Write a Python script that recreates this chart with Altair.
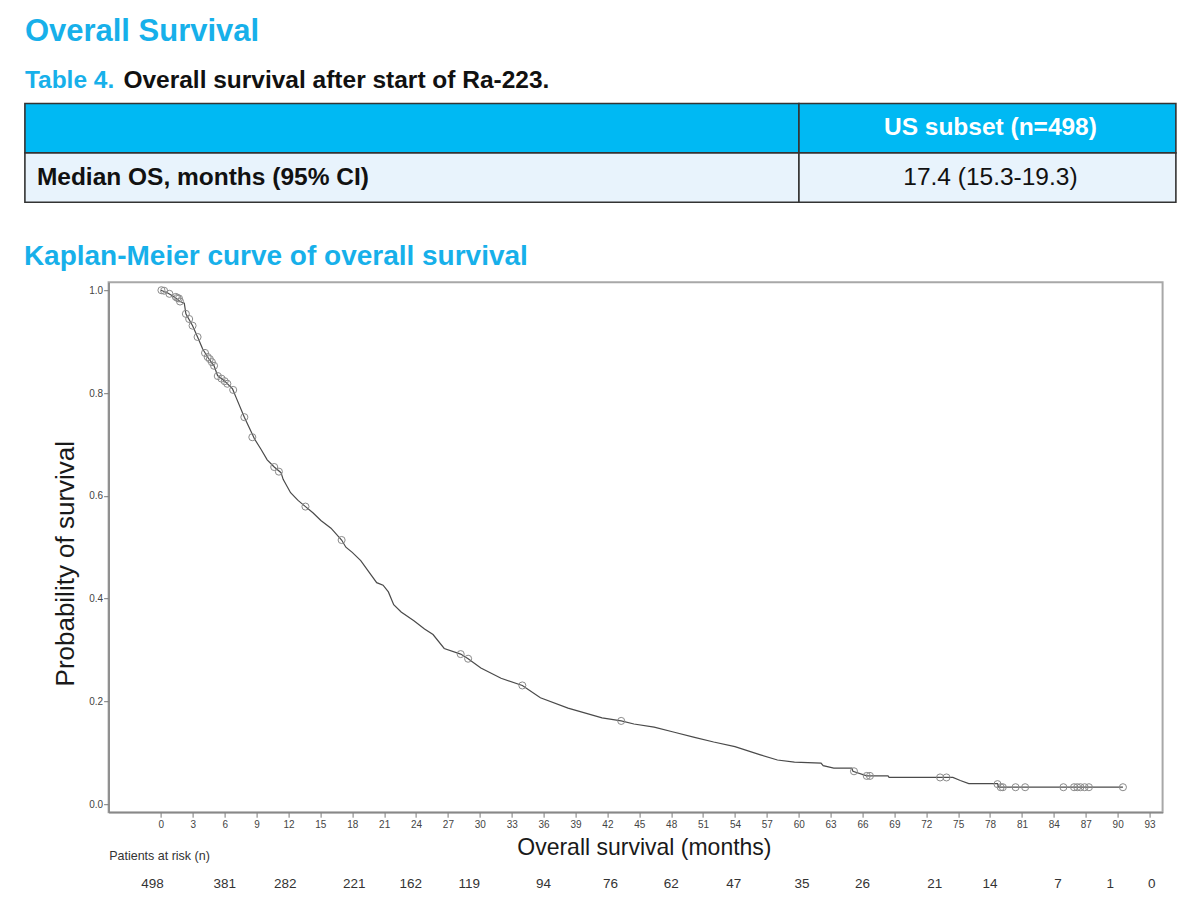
import altair as alt
import pandas as pd

FONT = "Liberation Sans, Arial, sans-serif"
BLUE = "#17B0EA"
HEAD_FILL = "#00B9F3"
BODY_FILL = "#E8F3FC"

# Kaplan-Meier curve vertices: months since start of Ra-223, survival probability
km_months = [0.0, 0.6, 1.2, 1.8, 2.2, 2.35, 2.98, 3.45, 3.92, 4.39, 5.0, 5.33, 5.96,
             6.74, 7.06, 7.85, 8.8, 9.4, 10.0, 10.66, 11.3, 11.5, 12.2, 12.9, 13.6,
             14.3, 15.05, 16.0, 17.0, 17.4, 18.0, 18.8, 19.8, 20.3, 20.9, 21.4, 21.9,
             22.6, 23.8, 24.8, 25.6, 26.65, 28.2, 28.9, 30.1, 32.0, 34.0, 35.7, 38.3,
             41.5, 43.3, 44.5, 46.4, 48.3, 50.2, 52.0, 54.0, 56.4, 58.0, 59.6, 62.1,
             62.3, 63.3, 65.0, 65.1, 66.4, 68.4, 68.5, 74.5, 75.2, 76.0, 78.7, 78.8,
             90.5]
km_surv = [1.000, 0.995, 0.988, 0.978, 0.975, 0.954, 0.931, 0.909, 0.886, 0.870, 0.853,
           0.834, 0.824, 0.808, 0.792, 0.753, 0.711, 0.691, 0.670, 0.656, 0.645, 0.632,
           0.606, 0.591, 0.579, 0.567, 0.552, 0.537, 0.514, 0.500, 0.490, 0.474, 0.445,
           0.431, 0.426, 0.413, 0.388, 0.374, 0.357, 0.341, 0.330, 0.303, 0.292, 0.283,
           0.265, 0.245, 0.231, 0.207, 0.187, 0.168, 0.162, 0.156, 0.150, 0.140, 0.130,
           0.121, 0.112, 0.096, 0.086, 0.082, 0.080, 0.075, 0.070, 0.070, 0.064, 0.055,
           0.055, 0.052, 0.052, 0.046, 0.040, 0.040, 0.033, 0.033]

# censored patients
cens_months = [0.05, 0.3, 0.8, 1.4, 1.55, 1.7, 1.8, 2.35, 2.66, 2.98, 3.45, 4.15, 4.4,
               4.6, 4.8, 5.0, 5.35, 5.7, 6.0, 6.25, 6.8, 7.85, 8.6, 10.66, 11.1, 13.6,
               17.0, 28.2, 28.9, 34.0, 43.3, 65.2, 66.4, 66.7, 73.3, 73.9, 78.7, 79.0,
               79.2, 80.4, 81.3, 84.9, 85.9, 86.2, 86.5, 86.9, 87.3, 90.5]
cens_surv = [1.000, 0.999, 0.993, 0.987, 0.985, 0.984, 0.978, 0.954, 0.944, 0.931, 0.909,
             0.878, 0.870, 0.866, 0.860, 0.853, 0.833, 0.828, 0.823, 0.818, 0.806, 0.753,
             0.714, 0.656, 0.647, 0.579, 0.514, 0.292, 0.283, 0.231, 0.162, 0.064, 0.055,
             0.055, 0.052, 0.052, 0.039, 0.033, 0.033, 0.033, 0.033, 0.033, 0.033, 0.033,
             0.033, 0.033, 0.033, 0.033]

# patients at risk
risk_months = [-0.8, 6.0, 11.7, 18.2, 23.5, 29.0, 36.0, 42.3, 48.0, 53.9, 60.3, 66.0,
               72.8, 78.0, 84.4, 89.3, 93.2]
risk_counts = [498, 381, 282, 221, 162, 119, 94, 76, 62, 47, 35, 26, 21, 14, 7, 1, 0]

x_ticks = list(range(0, 94, 3))
y_ticks = [0.0, 0.2, 0.4, 0.6, 0.8, 1.0]

# summary table
table_header = "US subset (n=498)"
table_label = "Median OS, months (95% CI)"
table_value = "17.4 (15.3-19.3)"
col_edges = [0.0, 0.6725, 1.0]

# ---------------- table ----------------
cells = pd.DataFrame([
    {"c0": col_edges[i], "c1": col_edges[i + 1], "r0": r, "r1": r + 1,
     "part": "head" if r == 0 else "body"}
    for r in range(2) for i in range(2)
])
tx = alt.Scale(domain=[0, 1], nice=False, zero=False)
ty = alt.Scale(domain=[0, 2], reverse=True, nice=False, zero=False)

rects = alt.Chart(cells).mark_rect(stroke="#333333", strokeWidth=1.6).encode(
    x=alt.X("c0:Q", scale=tx, axis=None),
    x2="c1:Q",
    y=alt.Y("r0:Q", scale=ty, axis=None),
    y2="r1:Q",
    color=alt.Color("part:N", scale=alt.Scale(domain=["head", "body"],
                                              range=[HEAD_FILL, BODY_FILL]), legend=None),
)

col2_mid = (col_edges[1] + col_edges[2]) / 2
head_txt = alt.Chart(pd.DataFrame({"t": [table_header], "x": [col2_mid], "r": [0.5]})).mark_text(
    font=FONT, fontSize=24.5, fontWeight="bold", color="white", baseline="middle", dx=3
).encode(x=alt.X("x:Q", scale=tx, axis=None), y=alt.Y("r:Q", scale=ty, axis=None), text="t:N")

label_txt = alt.Chart(pd.DataFrame({"t": [table_label], "x": [col_edges[0]], "r": [1.5]})).mark_text(
    font=FONT, fontSize=24.5, fontWeight="bold", color="#111111", baseline="middle",
    align="left", dx=12
).encode(x=alt.X("x:Q", scale=tx, axis=None), y=alt.Y("r:Q", scale=ty, axis=None), text="t:N")

value_txt = alt.Chart(pd.DataFrame({"t": [table_value], "x": [col2_mid], "r": [1.5]})).mark_text(
    font=FONT, fontSize=24.5, color="#111111", baseline="middle", dx=3
).encode(x=alt.X("x:Q", scale=tx, axis=None), y=alt.Y("r:Q", scale=ty, axis=None), text="t:N")

heading = alt.Chart(pd.DataFrame({"t": ["Overall Survival"]})).mark_text(
    font=FONT, fontSize=31, fontWeight="bold", color=BLUE, align="left", baseline="alphabetic"
).encode(x=alt.value(0), y=alt.value(-62.8), text="t:N")

cap_num = alt.Chart(pd.DataFrame({"t": ["Table 4."]})).mark_text(
    font=FONT, fontSize=24.5, fontWeight="bold", color=BLUE, align="left", baseline="alphabetic"
).encode(x=alt.value(0), y=alt.value(-15.3), text="t:N")

cap_txt = alt.Chart(pd.DataFrame({"t": ["Overall survival after start of Ra-223."]})).mark_text(
    font=FONT, fontSize=24.5, fontWeight="bold", color="#111111", align="left",
    baseline="alphabetic"
).encode(x=alt.value(98.5), y=alt.value(-15.3), text="t:N")

table_chart = alt.layer(rects, head_txt, label_txt, value_txt, heading, cap_num, cap_txt).properties(
    width=1151, height=98.7,
    view=alt.ViewBackground(stroke="transparent"),
)

# ---------------- Kaplan-Meier plot ----------------
km_df = pd.DataFrame({"month": km_months, "surv": km_surv})
cens_df = pd.DataFrame({"month": cens_months, "surv": cens_surv})
risk_df = pd.DataFrame({"month": risk_months, "n": risk_counts})

xs = alt.Scale(domain=[-4.92, 94.23], nice=False, zero=False)
ys = alt.Scale(domain=[-0.0156, 1.0156], nice=False, zero=False)

x_axis = alt.Axis(
    values=x_ticks, title="Overall survival (months)", grid=False, labelOverlap=False,
    labelFont=FONT, labelFontSize=10, labelColor="#444444", labelPadding=2,
    tickSize=5, tickColor="#777777", domainColor="#888888", domainWidth=1.6,
    titleFont=FONT, titleFontSize=23, titleFontWeight="normal", titleColor="#1a1a1a",
    titleX=535.3, titleY=42.6, titleBaseline="alphabetic",
)
y_axis = alt.Axis(
    values=y_ticks, format=".1f", title="Probability of survival", grid=False,
    labelOverlap=False,
    labelFont=FONT, labelFontSize=10, labelColor="#444444", labelPadding=1,
    tickSize=5, tickColor="#777777", domainColor="#888888", domainWidth=1.6,
    titleFont=FONT, titleFontSize=26, titleFontWeight="normal", titleColor="#1a1a1a",
    titleX=-35.4, titleY=281, titleBaseline="alphabetic",
)

X = alt.X("month:Q", scale=xs, axis=x_axis)
Y = alt.Y("surv:Q", scale=ys, axis=y_axis)

curve = alt.Chart(km_df).mark_line(color="#4a4a4a", strokeWidth=1.2).encode(
    x=X, y=Y, order="month:Q",
)

censored = alt.Chart(cens_df).mark_point(
    shape="circle", filled=False, size=50, color="#8a8a8a", strokeWidth=1, opacity=1
).encode(x=X, y=Y)

at_risk = alt.Chart(risk_df).mark_text(
    font=FONT, fontSize=13.5, color="#333333", baseline="middle"
).encode(x=X, y=alt.value(601.6), text=alt.Text("n:Q", format="d"))

at_risk_label = alt.Chart(pd.DataFrame({"t": ["Patients at risk (n)"]})).mark_text(
    font=FONT, fontSize=12.5, color="#333333", align="left", baseline="middle"
).encode(x=alt.value(0.6), y=alt.value(573.5), text="t:N")

km_chart = alt.layer(curve, censored, at_risk, at_risk_label).properties(
    width=1054, height=530,
    view=alt.ViewBackground(stroke="#a8a8a8", strokeWidth=2),
    title=alt.TitleParams(
        "Kaplan-Meier curve of overall survival", anchor="start", frame="group",
        dx=-84.7, offset=-10.3, baseline="alphabetic",
        font=FONT, fontSize=28, fontWeight="bold", color=BLUE,
    ),
)

# narrow blank column that keeps the table flush with the page margin
spacer = alt.Chart(pd.DataFrame({"a": [0]})).mark_rect(opacity=0).encode(
    x=alt.value(0), x2=alt.value(1), y=alt.value(0), y2=alt.value(1)
).properties(width=1, height=1, view=alt.ViewBackground(stroke="transparent"))

chart = alt.vconcat(
    table_chart,
    alt.hconcat(spacer, km_chart, spacing=-4.3),
    spacing=37.7,
).properties(
    padding={"left": 22.9, "top": 14.5, "right": 0, "bottom": 0},
    background="white",
).configure_axis(labelOverlap=False)

chart.save("out.html", embed_options={"renderer": "svg", "actions": False})
